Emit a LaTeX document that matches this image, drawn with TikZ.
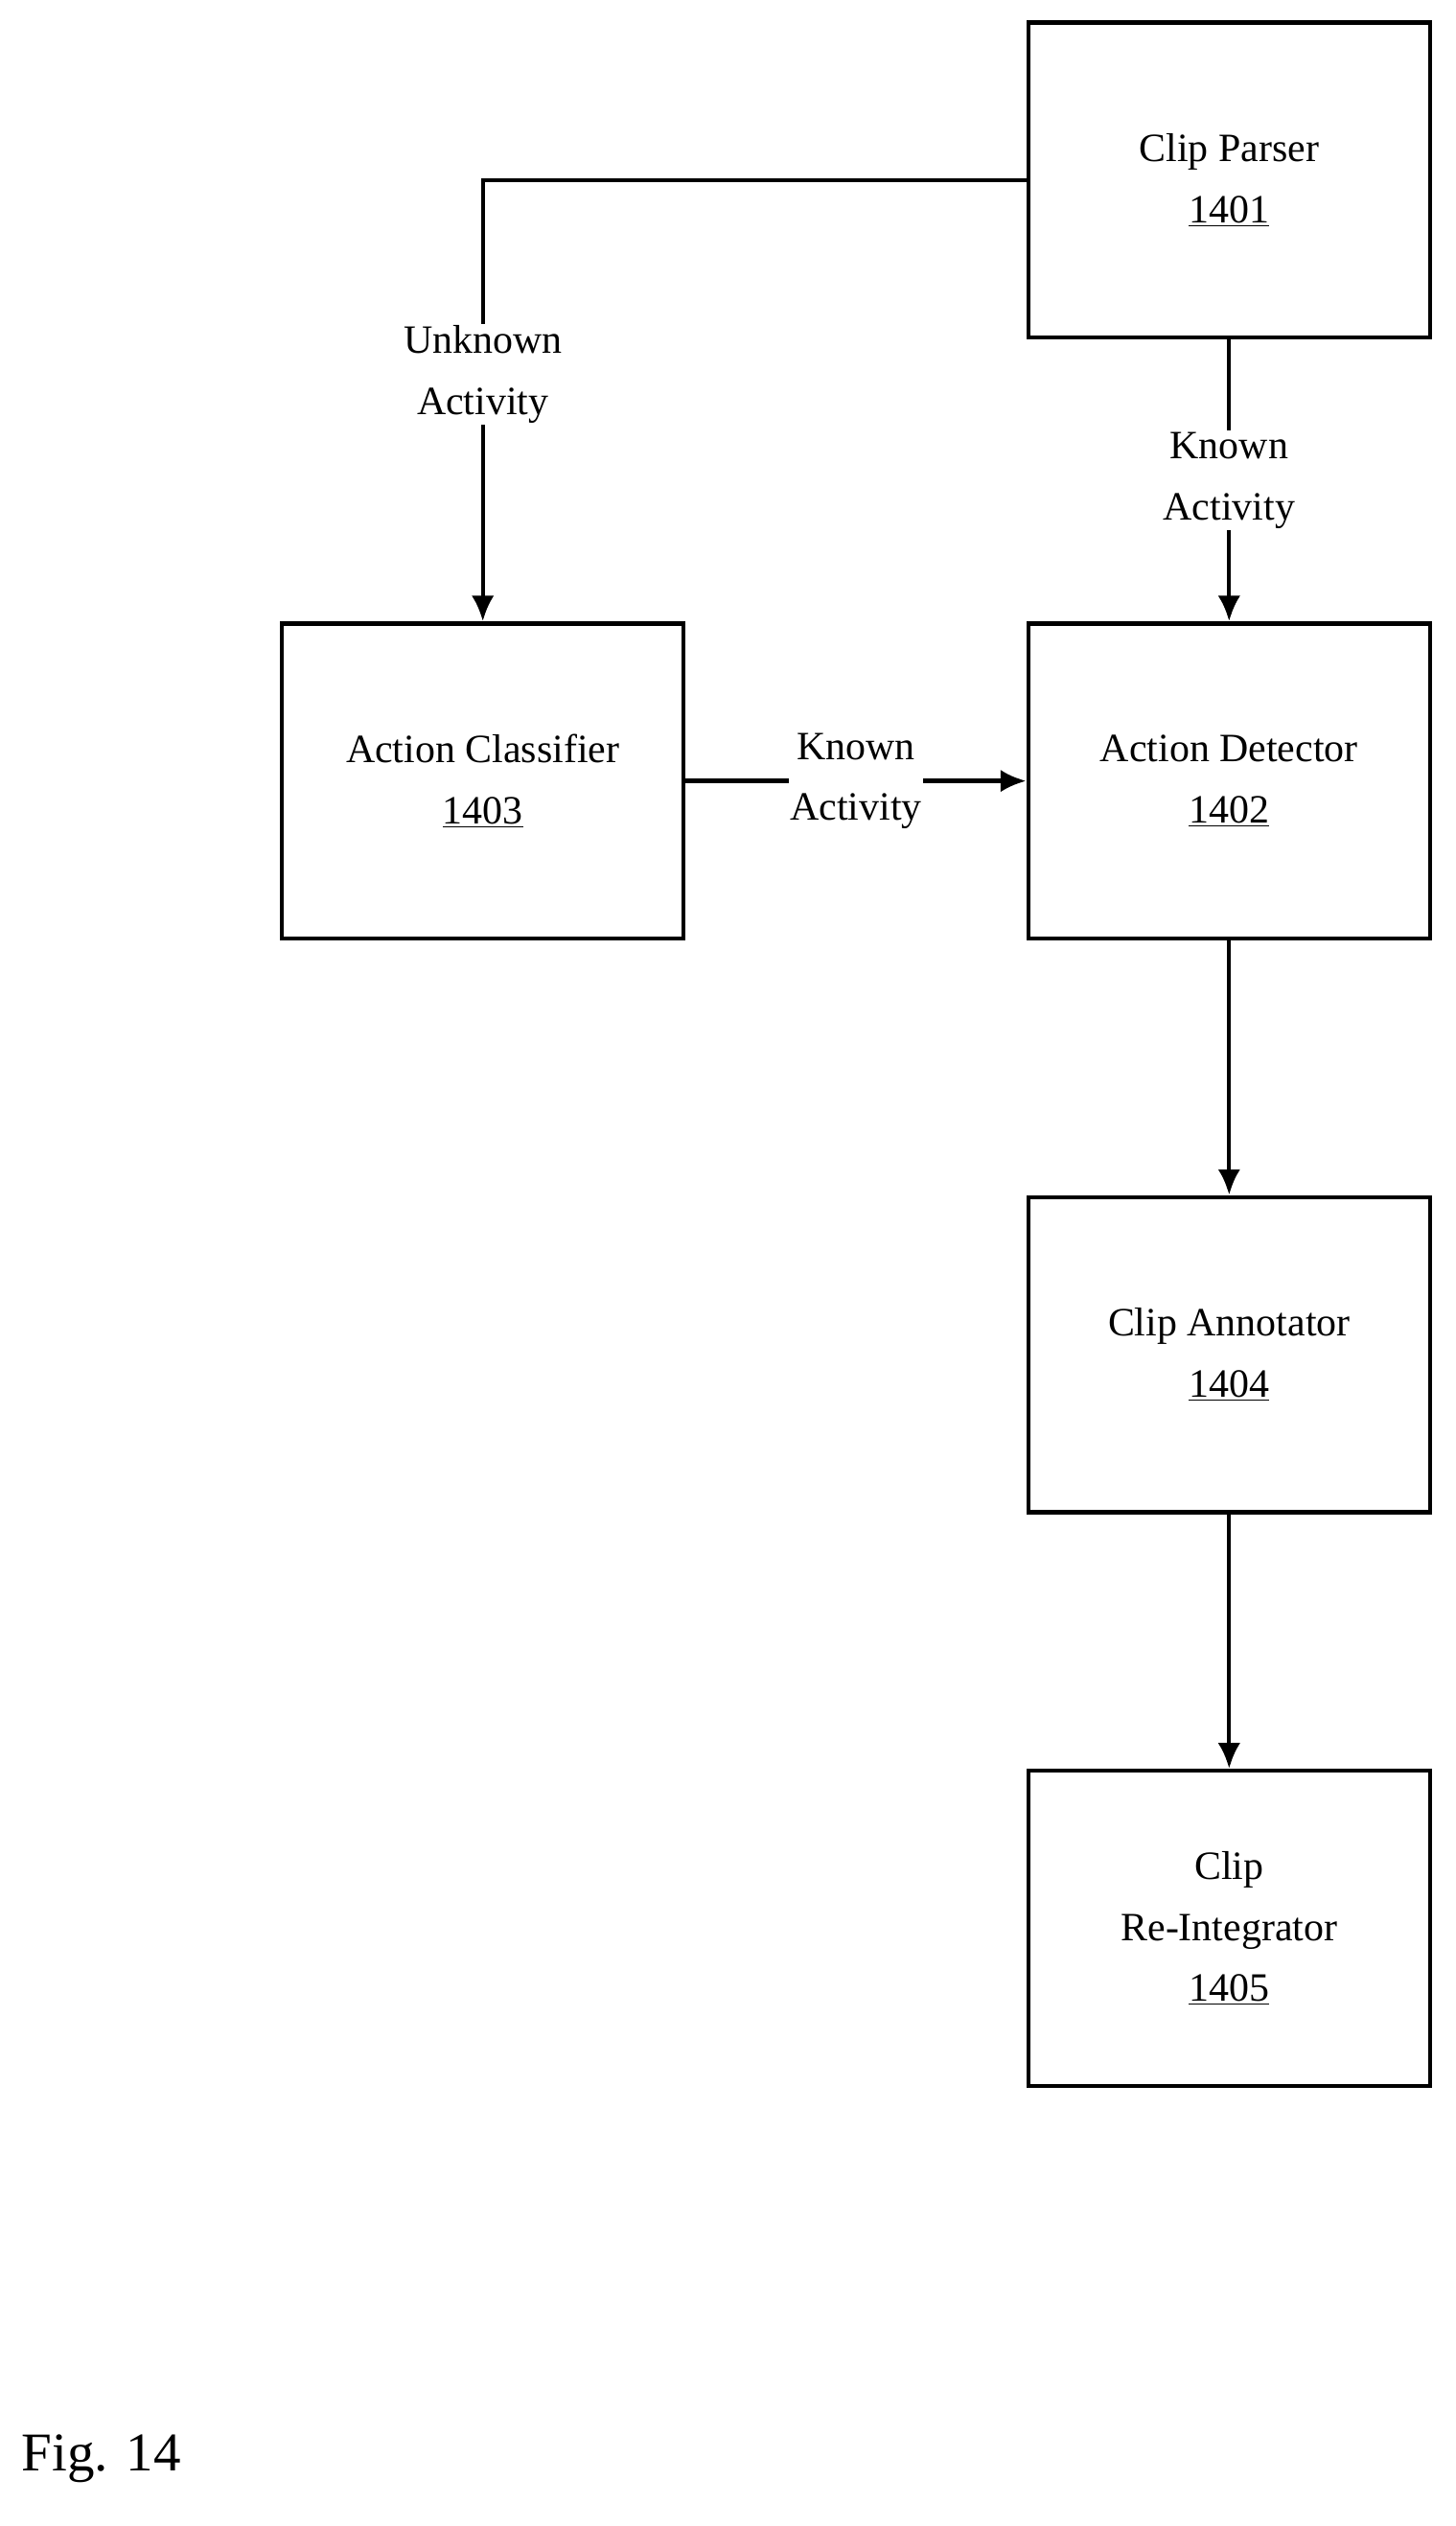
\documentclass[tikz,border=0pt]{standalone}
\usepackage{fontspec}
\setmainfont{Liberation Serif}
\usetikzlibrary{arrows.meta}
\begin{document}
\begin{tikzpicture}[x=1pt,y=-1pt,
  blk/.style={draw,line width=2.6pt,minimum width=250pt,minimum height=196pt,align=center,font=\fontsize{25}{38}\selectfont,inner sep=0pt},
  con/.style={line width=2.6pt,-{Latex[length=16pt,width=14pt]}},
  lbl/.style={fill=white,align=center,font=\fontsize{25}{38}\selectfont,inner sep=1pt}]
\useasboundingbox[fill=white] (0,0) rectangle (906,1572);
\node[blk] (p) at (765,112) {Clip Parser\\\underline{1401}};
\node[blk] (c) at (300.5,486) {Action Classifier\\\underline{1403}};
\node[blk] (d) at (765,486) {Action Detector\\\underline{1402}};
\node[blk] (a) at (765,843) {Clip Annotator\\\underline{1404}};
\node[blk] (r) at (765,1200) {Clip\\Re-Integrator\\\underline{1405}};
\draw[con] (p.west) -| (c.north) node[lbl,pos=0.72] {Unknown\\Activity};
\draw[con] (p) -- (d) node[lbl,midway] {Known\\Activity};
\draw[con] (c) -- (d) node[lbl,pos=0.5] {Known\\Activity};
\draw[con] (d) -- (a);
\draw[con] (a) -- (r);
\node[anchor=west,font=\fontsize{34}{40}\selectfont] (f) at (10,1530) {Fig. 14};
\end{tikzpicture}
\end{document}
